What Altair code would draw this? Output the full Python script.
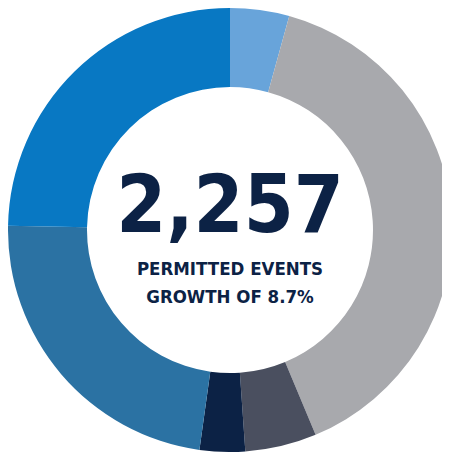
import altair as alt
import pandas as pd

segments = ["A", "B", "C", "D", "E", "F"]
values = [4.3, 39.4, 5.2, 3.3, 23.1, 24.7]
colors = ["#68a4da", "#a8a9ad", "#4a4f5f", "#0c2245", "#2b72a3", "#0878c3"]

headline = "2,257"
line1 = "PERMITTED EVENTS"
line2 = "GROWTH OF 8.7%"

df = pd.DataFrame({"segment": segments, "value": values, "order": list(range(len(segments)))})

W = 434
H = 444
cx = 222
cy = 222
FONT = "DejaVu Sans Condensed, Roboto, sans-serif"

arc = alt.Chart(df).mark_arc(outerRadius=222, innerRadius=143).encode(
    theta=alt.Theta("value:Q", stack=True),
    order=alt.Order("order:Q"),
    color=alt.Color("segment:N", scale=alt.Scale(domain=segments, range=colors), legend=None),
    x=alt.value(cx),
    y=alt.value(cy),
)

big = alt.Chart(pd.DataFrame({"t": [headline]})).mark_text(font=FONT, fontWeight="bold", fontSize=80,
                               color="#0c2245", baseline="alphabetic", align="center").encode(
    text="t:N", x=alt.value(cx), y=alt.value(224))
t1 = alt.Chart(pd.DataFrame({"t": [line1]})).mark_text(font=FONT, fontWeight="bold", fontSize=18.5,
                               color="#0c2245", baseline="alphabetic", align="center").encode(
    text="t:N", x=alt.value(cx), y=alt.value(267))
t2 = alt.Chart(pd.DataFrame({"t": [line2]})).mark_text(font=FONT, fontWeight="bold", fontSize=18.5,
                               color="#0c2245", baseline="alphabetic", align="center").encode(
    text="t:N", x=alt.value(cx), y=alt.value(295))

chart = alt.layer(arc, big, t1, t2).properties(
    width=W, height=H, padding=0, autosize=alt.AutoSizeParams(type="none")
).configure_view(stroke=None)

chart.save("out.html", embed_options={"renderer": "svg", "actions": False})
